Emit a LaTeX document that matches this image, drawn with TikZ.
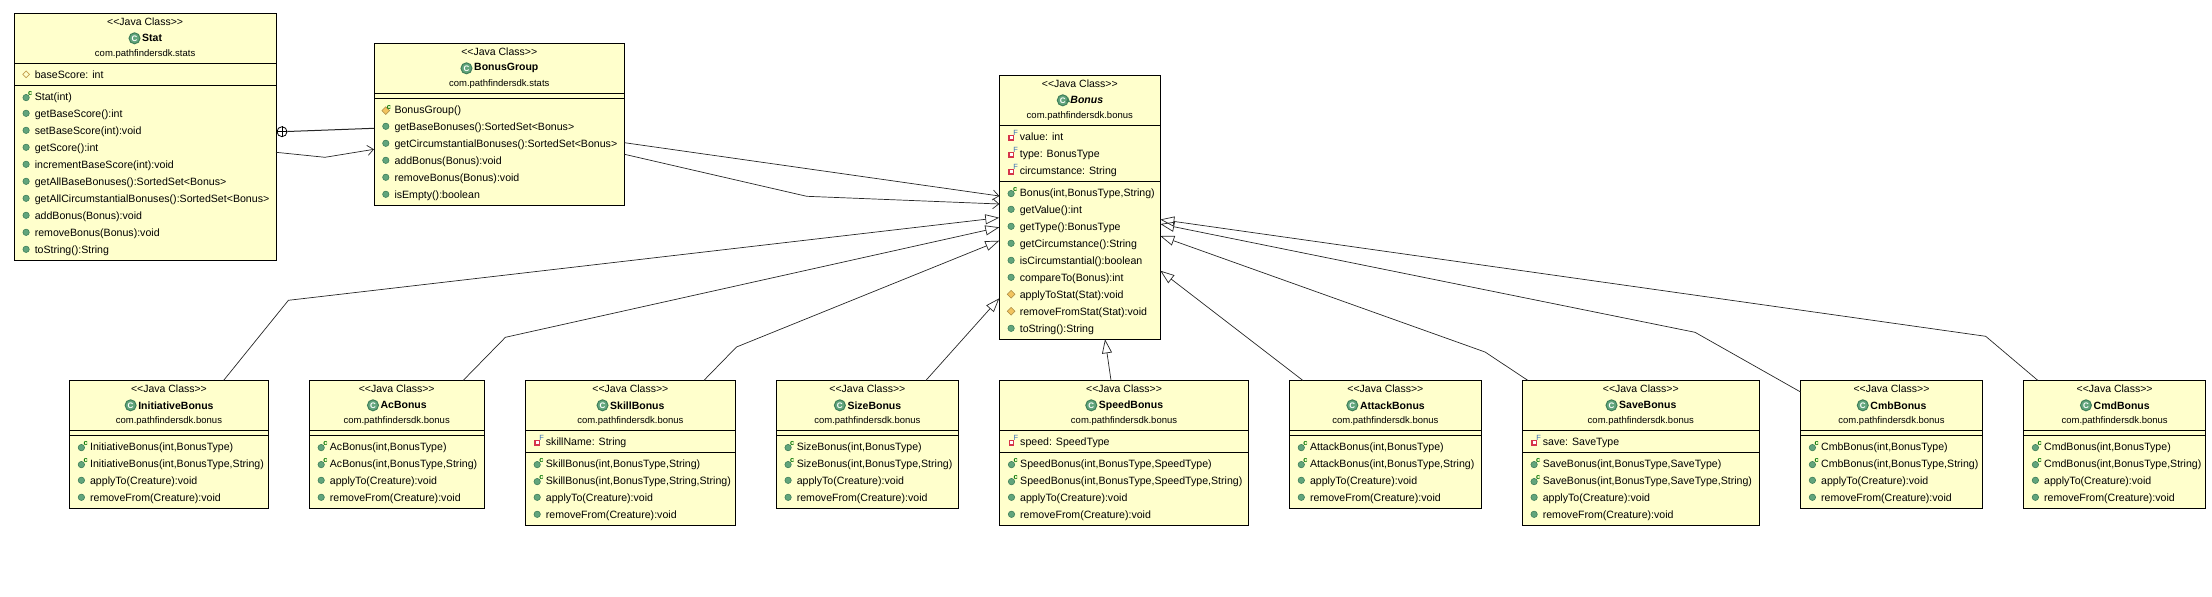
\documentclass[tikz,border=0pt]{standalone}
\usepackage{fontspec}
\setmainfont{Liberation Sans}
\usetikzlibrary{positioning,shapes.geometric,arrows.meta}
\definecolor{boxyellow}{HTML}{FFFFCC}
\definecolor{iconrim}{HTML}{3F7F5A}
\definecolor{icongreen}{HTML}{62A57C}
\definecolor{iconorange}{HTML}{F2C45E}
\definecolor{iconred}{HTML}{D5344A}
\definecolor{iconblue}{HTML}{3A6FB5}
\tikzset{
	classbox/.style={draw=black,fill=boxyellow,line width=1pt,inner sep=0pt,outer sep=0pt,anchor=north west},
	stereotype/.style={inner sep=0pt,font=\fontsize{10.5}{12}\selectfont},
	classname/.style={inner sep=0pt,font=\fontsize{10.5}{13}\selectfont\bfseries},
	packagename/.style={inner sep=0pt,font=\fontsize{9.5}{12}\selectfont},
	classicon/.style={circle,draw=iconrim,fill=icongreen,line width=1pt,inner sep=0pt,minimum size=11pt,text=white,font=\fontsize{8}{8}\selectfont\bfseries},
	member/.style={inner sep=0pt,anchor=base west,font=\fontsize{10.6}{12}\selectfont},
	pub/.style={circle,draw=iconrim,fill=icongreen,line width=.6pt,inner sep=0pt,minimum size=6.4pt},
	prot/.style={diamond,draw=iconorange!70!black,fill=iconorange,line width=.5pt,inner sep=0pt,minimum size=8pt},
	pack/.style={diamond,draw=iconorange!80!black,fill=boxyellow,line width=.7pt,inner sep=0pt,minimum size=7pt},
	ctor/.style={pub,yshift=-1.3pt,label={[inner sep=0pt,text=green!45!black,font=\fontsize{7.5}{8}\selectfont\bfseries,label distance=-.5pt]50:c}},
	protctor/.style={prot,yshift=-1.3pt,label={[inner sep=0pt,text=green!45!black,font=\fontsize{7.5}{8}\selectfont\bfseries,label distance=-1.5pt]50:c}},
	finalf/.style={rectangle,draw=iconred,fill=white,line width=1.2pt,inner sep=0pt,minimum size=4.4pt,yshift=-1.5pt,label={[inner sep=0pt,text=iconblue,font=\fontsize{7.5}{8}\selectfont,label distance=-.5pt]50:F}},
	link/.style={draw=black!85,line width=.7pt},
	extends/.style={link,-{Triangle[open,length=14pt,width=10pt]}},
	uses/.style={link,-{Straight Barb[length=6pt,width=10pt]}},
	nested/.style={circle,draw=black,line width=.8pt,inner sep=0pt,minimum size=10pt}
}
\newcommand{\umlclass}[7]{%
	\node[classbox,minimum width={(#4-#2)*1pt},minimum height={(#5-#3)*1pt}] (#1) at (#2,#3) {};
	\node[stereotype] (#1-stereo) at ([yshift=-8.7pt]#1.north) {<{}<Java Class>{}>};
	\node[classname] (#1-name) at ([xshift=7pt,yshift=-25pt]#1.north) {#6};
	\node[classicon,left=1.5pt of #1-name] (#1-icon) {C};
	\node[packagename] (#1-pkg) at ([yshift=-40.7pt]#1.north) {#7};
}
\newcommand{\compline}[2]{\draw[line width=1pt] ([yshift=-#2pt]#1.north west) -- ([yshift=-#2pt]#1.north east);}
\newcommand{\members}[3]{%
	\foreach \kind/\txt [count=\i from 0] in {#3}{
		\pgfmathsetmacro{\my}{#2+17*\i}
		\node[member] (#1-m\i) at ([shift={(20.3,\my+4)}]#1.north west) {\txt};
		\node[\kind] (#1-k\i) at ([shift={(11.8,\my)}]#1.north west) {};
	}
}
\begin{document}
\begin{tikzpicture}[x=1pt,y=-1pt]
	\useasboundingbox (0,0) rectangle (2212,597);
	% top row
	\umlclass{stat}{14.3}{13.3}{276}{260}{Stat}{com.pathfindersdk.stats}
	\compline{stat}{50} \compline{stat}{72}
	\members{stat}{61}{pack/{baseScore: int}}
	\members{stat}{83}{ctor/{Stat(int)},pub/{getBaseScore():int},pub/{setBaseScore(int):void},pub/{getScore():int},pub/{incrementBaseScore(int):void},pub/{getAllBaseBonuses():SortedSet<Bonus>},pub/{getAllCircumstantialBonuses():SortedSet<Bonus>},pub/{addBonus(Bonus):void},pub/{removeBonus(Bonus):void},pub/{toString():String}}
	\umlclass{bonusgroup}{374}{43.3}{624.5}{205}{BonusGroup}{com.pathfindersdk.stats}
	\compline{bonusgroup}{50} \compline{bonusgroup}{55}
	\members{bonusgroup}{66}{protctor/{BonusGroup()},pub/{getBaseBonuses():SortedSet<Bonus>},pub/{getCircumstantialBonuses():SortedSet<Bonus>},pub/{addBonus(Bonus):void},pub/{removeBonus(Bonus):void},pub/{isEmpty():boolean}}
	\umlclass{bonus}{999.3}{75.3}{1160.3}{339.3}{\itshape Bonus}{com.pathfindersdk.bonus}
	\fill[iconrim] ([xshift=1pt,yshift=-1pt]bonus-icon.north east) -- ++(2,5) -- ++(-4,0) -- cycle;
	\compline{bonus}{50} \compline{bonus}{106}
	\members{bonus}{61}{finalf/{value: int},finalf/{type: BonusType},finalf/{circumstance: String}}
	\members{bonus}{117}{ctor/{Bonus(int,BonusType,String)},pub/{getValue():int},pub/{getType():BonusType},pub/{getCircumstance():String},pub/{isCircumstantial():boolean},pub/{compareTo(Bonus):int},prot/{applyToStat(Stat):void},prot/{removeFromStat(Stat):void},pub/{toString():String}}
	% bottom row
	\umlclass{initiativebonus}{69.6}{380.3}{268.3}{508}{InitiativeBonus}{com.pathfindersdk.bonus}
	\compline{initiativebonus}{50} \compline{initiativebonus}{55}
	\members{initiativebonus}{66}{ctor/{InitiativeBonus(int,BonusType)},ctor/{InitiativeBonus(int,BonusType,String)},pub/{applyTo(Creature):void},pub/{removeFrom(Creature):void}}
	\umlclass{acbonus}{309.4}{380.3}{484}{508}{AcBonus}{com.pathfindersdk.bonus}
	\compline{acbonus}{50} \compline{acbonus}{55}
	\members{acbonus}{66}{ctor/{AcBonus(int,BonusType)},ctor/{AcBonus(int,BonusType,String)},pub/{applyTo(Creature):void},pub/{removeFrom(Creature):void}}
	\umlclass{skillbonus}{525.4}{380.3}{735.3}{525}{SkillBonus}{com.pathfindersdk.bonus}
	\compline{skillbonus}{50} \compline{skillbonus}{72}
	\members{skillbonus}{61}{finalf/{skillName: String}}
	\members{skillbonus}{83}{ctor/{SkillBonus(int,BonusType,String)},ctor/{SkillBonus(int,BonusType,String,String)},pub/{applyTo(Creature):void},pub/{removeFrom(Creature):void}}
	\umlclass{sizebonus}{776.3}{380.3}{958.5}{508}{SizeBonus}{com.pathfindersdk.bonus}
	\compline{sizebonus}{50} \compline{sizebonus}{55}
	\members{sizebonus}{66}{ctor/{SizeBonus(int,BonusType)},ctor/{SizeBonus(int,BonusType,String)},pub/{applyTo(Creature):void},pub/{removeFrom(Creature):void}}
	\umlclass{speedbonus}{999.7}{380.3}{1248.4}{525}{SpeedBonus}{com.pathfindersdk.bonus}
	\compline{speedbonus}{50} \compline{speedbonus}{72}
	\members{speedbonus}{61}{finalf/{speed: SpeedType}}
	\members{speedbonus}{83}{ctor/{SpeedBonus(int,BonusType,SpeedType)},ctor/{SpeedBonus(int,BonusType,SpeedType,String)},pub/{applyTo(Creature):void},pub/{removeFrom(Creature):void}}
	\umlclass{attackbonus}{1289.5}{380.3}{1481.3}{508}{AttackBonus}{com.pathfindersdk.bonus}
	\compline{attackbonus}{50} \compline{attackbonus}{55}
	\members{attackbonus}{66}{ctor/{AttackBonus(int,BonusType)},ctor/{AttackBonus(int,BonusType,String)},pub/{applyTo(Creature):void},pub/{removeFrom(Creature):void}}
	\umlclass{savebonus}{1522.3}{380.3}{1759.3}{525}{SaveBonus}{com.pathfindersdk.bonus}
	\compline{savebonus}{50} \compline{savebonus}{72}
	\members{savebonus}{61}{finalf/{save: SaveType}}
	\members{savebonus}{83}{ctor/{SaveBonus(int,BonusType,SaveType)},ctor/{SaveBonus(int,BonusType,SaveType,String)},pub/{applyTo(Creature):void},pub/{removeFrom(Creature):void}}
	\umlclass{cmbbonus}{1800.6}{380.3}{1982.3}{508}{CmbBonus}{com.pathfindersdk.bonus}
	\compline{cmbbonus}{50} \compline{cmbbonus}{55}
	\members{cmbbonus}{66}{ctor/{CmbBonus(int,BonusType)},ctor/{CmbBonus(int,BonusType,String)},pub/{applyTo(Creature):void},pub/{removeFrom(Creature):void}}
	\umlclass{cmdbonus}{2023.6}{380.3}{2205.7}{508}{CmdBonus}{com.pathfindersdk.bonus}
	\compline{cmdbonus}{50} \compline{cmdbonus}{55}
	\members{cmdbonus}{66}{ctor/{CmdBonus(int,BonusType)},ctor/{CmdBonus(int,BonusType,String)},pub/{applyTo(Creature):void},pub/{removeFrom(Creature):void}}
	% bends
	\coordinate (statbend) at (325,157.3);
	\coordinate (groupbend) at (806.7,196.3);
	\coordinate (initbend) at (288.4,300.3);
	\coordinate (acbend) at (505.4,337.3);
	\coordinate (skillbend) at (736.5,347);
	\coordinate (savebend) at (1485,352);
	\coordinate (cmbbend) at (1695,332.3);
	\coordinate (cmdbend) at (1985.7,336.3);
	% links
	\node[nested] (statnest) at (282,131.7) {};
	\draw[line width=.8pt] (statnest.north) -- (statnest.south) (statnest.west) -- (statnest.east);
	\draw[link,line width=1pt] (statnest) -- ([yshift=-85pt]bonusgroup.north west);
	\draw[uses] ([yshift=-139pt]stat.north east) -- (statbend) -- ([yshift=-106pt]bonusgroup.north west);
	\draw[uses] ([yshift=-99.4pt]bonusgroup.north east) -- ([yshift=-120.7pt]bonus.north west);
	\draw[uses] ([yshift=-111pt]bonusgroup.north east) -- (groupbend) -- ([yshift=-128.7pt]bonus.north west);
	\draw[extends] ([xshift=154.1pt]initiativebonus.north west) -- (initbend) -- ([yshift=-142.4pt]bonus.north west);
	\draw[extends] ([xshift=153.9pt]acbonus.north west) -- (acbend) -- ([yshift=-152pt]bonus.north west);
	\draw[extends] ([xshift=178.6pt]skillbonus.north west) -- (skillbend) -- ([yshift=-165.4pt]bonus.north west);
	\draw[extends] ([xshift=149.7pt]sizebonus.north west) -- ([yshift=-223pt]bonus.north west);
	\draw[extends] ([xshift=111.3pt]speedbonus.north west) -- ([xshift=105.7pt]bonus.south west);
	\draw[extends] ([xshift=13.2pt]attackbonus.north west) -- ([yshift=-195.4pt]bonus.north east);
	\draw[extends] ([xshift=5.4pt]savebonus.north west) -- (savebend) -- ([yshift=-160.7pt]bonus.north east);
	\draw[extends] ([yshift=-11.7pt]cmbbonus.north west) -- (cmbbend) -- ([yshift=-148.7pt]bonus.north east);
	\draw[extends] ([xshift=14.1pt]cmdbonus.north west) -- (cmdbend) -- ([yshift=-144.2pt]bonus.north east);
\end{tikzpicture}
\end{document}
